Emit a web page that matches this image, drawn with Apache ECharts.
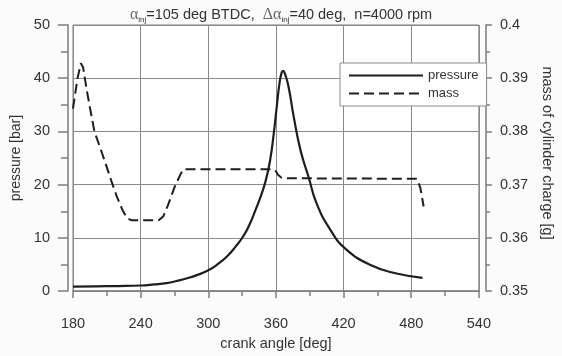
<!DOCTYPE html>
<html>
<head>
<meta charset="utf-8">
<script src="https://cdn.jsdelivr.net/npm/echarts@6/dist/echarts.min.js"></script>
<style>
  html, body { margin: 0; padding: 0; background: #fbfbfb; }
  #chart { width: 562px; height: 356px; }
</style>
</head>
<body>
<div id="chart"></div>
<script>
// Cylinder pressure over crank angle
const pressureAngle = [180, 200, 220, 240, 252, 263, 272, 282, 291, 300, 308, 317, 324, 331, 337, 342, 346, 351, 355, 358, 361, 363, 365, 366.5, 368, 371, 376, 382, 389, 396, 408, 422, 445, 467, 490];
const pressureBar   = [0.85, 0.9, 0.95, 1.05, 1.25, 1.5, 1.9, 2.45, 3.1, 3.9, 5.0, 6.6, 8.3, 10.3, 12.7, 15.3, 17.5, 20.8, 24.8, 29.5, 35.2, 38.8, 41.0, 41.4, 40.8, 38.6, 32.5, 26.3, 21.4, 16.5, 11.6, 7.9, 4.8, 3.3, 2.5];

// Mass of cylinder charge over crank angle
const massAngle = [180, 184, 187, 189, 192, 195, 199, 204, 209, 214, 219, 224, 228, 232, 256, 260, 264, 270, 275, 278, 357, 360, 362, 365, 370, 485, 488, 491];
const massGram  = [0.3843, 0.3900, 0.3928, 0.3920, 0.3880, 0.3845, 0.3800, 0.3770, 0.3739, 0.3707, 0.3677, 0.3652, 0.3637, 0.3633, 0.3633, 0.3640, 0.3660, 0.3695, 0.3718, 0.3729, 0.3729, 0.3725, 0.3718, 0.3713, 0.3712, 0.3711, 0.3695, 0.3659];

// Axis ranges and tick steps
const angleTicks = { min: 180, max: 540, step: 60 };
const pressureTicks = { min: 0, max: 50, step: 10 };
const massTicks = { min: 0.35, max: 0.40, step: 0.01 };

const seriesNames = ['pressure', 'mass'];

const pair = (xs, ys) => xs.map((x, i) => [x, ys[i]]);

const FONT = 'Liberation Sans, Arial, sans-serif';
const TXT = '#333';
const AXIS = '#7d7d7d';
const AX_FS = 14.5;

const chart = echarts.init(document.getElementById('chart'), null, { renderer: 'canvas' });

chart.setOption({
  backgroundColor: '#fbfbfb',
  animation: false,
  title: {
    left: 'center',
    top: 1,
    text: '{g|α}{s|inj}{t|=105 deg BTDC,  }{g|Δα}{s|inj}{t|=40 deg,  n=4000 rpm}',
    textStyle: {
      fontWeight: 'normal',
      rich: {
        t: { fontFamily: FONT, fontSize: 14.5, fontWeight: 'normal', color: TXT, lineHeight: 18, verticalAlign: 'middle' },
        g: { fontFamily: 'Liberation Serif, DejaVu Serif, serif', fontSize: 16, fontWeight: 'normal', color: '#666', lineHeight: 18, verticalAlign: 'middle' },
        s: { fontFamily: FONT, fontSize: 8, fontWeight: 'normal', color: TXT, lineHeight: 18, verticalAlign: 'bottom' }
      }
    }
  },
  legend: {
    data: seriesNames,
    orient: 'vertical',
    left: 340,
    top: 63,
    backgroundColor: '#fff',
    borderColor: '#8a8a8a',
    borderWidth: 1,
    padding: [6, 8, 6, 8],
    itemWidth: 74,
    itemHeight: 14,
    itemGap: 5,
    itemStyle: { opacity: 0, borderWidth: 0 },
    textStyle: { fontFamily: FONT, fontSize: 13, color: TXT }
  },
  grid: {
    left: 73, right: 67, top: 25, bottom: 60,
    show: true,
    backgroundColor: '#fff',
    borderColor: AXIS,
    borderWidth: 1
  },
  xAxis: {
    type: 'value',
    min: angleTicks.min, max: angleTicks.max, interval: angleTicks.step,
    offset: 5,
    name: 'crank angle [deg]',
    nameLocation: 'middle',
    nameGap: 37,
    nameTextStyle: { fontFamily: FONT, fontSize: AX_FS, color: TXT },
    axisLine: { show: true, lineStyle: { color: AXIS, width: 1.5 } },
    axisTick: { show: true, inside: false, length: 7, lineStyle: { color: AXIS, width: 1.5 } },
    minorTick: { show: true, splitNumber: 2, length: 5, lineStyle: { color: AXIS, width: 1.5 } },
    axisLabel: { fontFamily: FONT, fontSize: AX_FS, color: TXT, margin: 20 },
    splitLine: { show: true, lineStyle: { color: '#8a8a8a', width: 1 } }
  },
  yAxis: [
    {
      type: 'value',
      position: 'left',
      min: pressureTicks.min, max: pressureTicks.max, interval: pressureTicks.step,
      offset: 5,
      name: 'pressure [bar]',
      nameLocation: 'middle',
      nameRotate: 90,
      nameGap: 41,
      nameTextStyle: { fontFamily: FONT, fontSize: 14, color: TXT },
      axisLine: { show: true, lineStyle: { color: AXIS, width: 1.5 } },
      axisTick: { show: true, inside: false, length: 10, lineStyle: { color: AXIS, width: 1.5 } },
      minorTick: { show: true, splitNumber: 2, length: 7, lineStyle: { color: AXIS, width: 1.5 } },
      axisLabel: { fontFamily: FONT, fontSize: AX_FS, color: TXT, margin: 18 },
      splitLine: { show: true, lineStyle: { color: '#8a8a8a', width: 1 } }
    },
    {
      type: 'value',
      position: 'right',
      min: massTicks.min, max: massTicks.max, interval: massTicks.step,
      offset: 7,
      name: 'mass of cylinder charge [g]',
      nameLocation: 'middle',
      nameRotate: -90,
      nameGap: 49,
      nameTextStyle: { fontFamily: FONT, fontSize: AX_FS, color: TXT, padding: [0, 10, 0, 0] },
      axisLine: { show: true, lineStyle: { color: AXIS, width: 1.5 } },
      axisTick: { show: true, inside: false, length: 6, lineStyle: { color: AXIS, width: 1.5 } },
      minorTick: { show: true, splitNumber: 2, length: 4, lineStyle: { color: AXIS, width: 1.5 } },
      axisLabel: { fontFamily: FONT, fontSize: AX_FS, color: TXT, margin: 14,
                   formatter: v => String(Math.round(v * 1000) / 1000) },
      splitLine: { show: false }
    }
  ],
  series: [
    {
      name: seriesNames[0],
      type: 'line',
      yAxisIndex: 0,
      data: pair(pressureAngle, pressureBar),
      showSymbol: false,
      symbol: 'none',
      smooth: 0.5,
      lineStyle: { color: '#1e1e1e', width: 2.2, type: 'solid' },
      itemStyle: { color: '#1e1e1e' },
      z: 3
    },
    {
      name: seriesNames[1],
      type: 'line',
      yAxisIndex: 1,
      data: pair(massAngle, massGram),
      showSymbol: false,
      symbol: 'none',
      lineStyle: { color: '#1e1e1e', width: 2, type: [10, 5] },
      itemStyle: { color: '#1e1e1e' },
      z: 2
    }
  ]
});
</script>
</body>
</html>
